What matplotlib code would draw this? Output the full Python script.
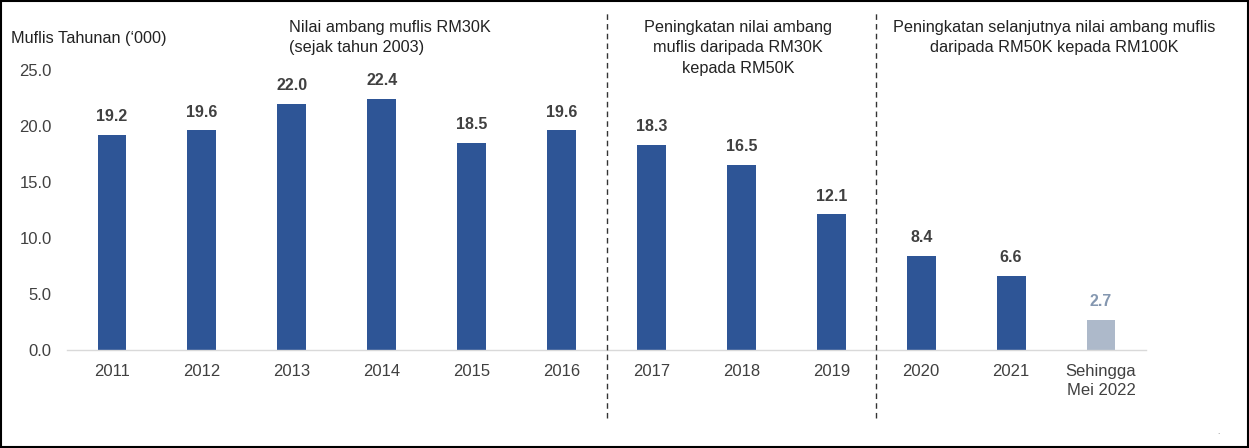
import matplotlib.pyplot as plt
from matplotlib.patches import Rectangle

plt.rcParams['font.family'] = ['Liberation Sans', 'DejaVu Sans']

# data
years = ['2011', '2012', '2013', '2014', '2015', '2016',
         '2017', '2018', '2019', '2020', '2021', 'Sehingga\nMei 2022']
muflis = [19.2, 19.6, 22.0, 22.4, 18.5, 19.6, 18.3, 16.5, 12.1, 8.4, 6.6, 2.7]
partial = [False] * 11 + [True]
yticks = [0, 5, 10, 15, 20, 25]
dividers = [5.5, 8.5]

W, H = 1249, 448
fig = plt.figure(figsize=(W / 100, H / 100), dpi=100)
# axes placed in pixels: x from 67 to 1146, y from 70 (25.0) to 350 (0.0)
ax = fig.add_axes([67 / W, (H - 350) / H, 1079 / W, 280 / H])

dark = '#2E5596'
light = '#ADB9CA'
txt = '#404040'

xs = list(range(len(years)))
colors = [light if p else dark for p in partial]
ax.bar(xs, muflis, width=0.32, color=colors, zorder=2)

for x, v, p in zip(xs, muflis, partial):
    ax.annotate(f'{v:.1f}', (x, v), xytext=(0, 10), textcoords='offset points',
                ha='center', va='baseline', fontsize=11.5, fontweight='bold',
                color='#8497B0' if p else txt)

ax.set_xlim(-0.5, len(years) - 0.5)
ax.set_ylim(0, 25)
ax.set_yticks(yticks)
ax.set_yticklabels([f'{t:.1f}' for t in yticks])
ax.set_xticks(xs)
ax.set_xticklabels(years, linespacing=1.35)
ax.tick_params(axis='both', length=0, labelsize=12, colors=txt)
ax.tick_params(axis='y', pad=11)
ax.tick_params(axis='x', pad=10)
for s in ['top', 'right', 'left']:
    ax.spines[s].set_visible(False)
ax.spines['bottom'].set_color('#D9D9D9')
ax.spines['bottom'].set_linewidth(1)

# dashed dividers between periods
for d in dividers:
    ax.plot([d, d], [-6.1, 30.1], color='#333333', lw=1, ls=(0, (4, 3)),
            clip_on=False, zorder=3)

fig.text(11 / W, 1 - 38 / H, "Muflis Tahunan (\u2018000)", fontsize=11.7,
         color='#222222', va='center', ha='left')

note = dict(fontsize=11.7, color='#222222', va='top', linespacing=1.45)
fig.text(289 / W, 1 - 20 / H, 'Nilai ambang muflis RM30K\n(sejak tahun 2003)',
         ha='left', **note)
fig.text(738 / W, 1 - 20 / H, 'Peningkatan nilai ambang\nmuflis daripada RM30K\nkepada RM50K',
         ha='center', multialignment='center', **note)
fig.text(1054 / W, 1 - 20 / H, 'Peningkatan selanjutnya nilai ambang muflis\ndaripada RM50K kepada RM100K',
         ha='center', multialignment='center', **note)

fig.text(1218 / W, 1 - 434 / H, '.', fontsize=6, color='#777777', ha='center')

# outer frame
fig.add_artist(Rectangle((0.001, 0.002), 0.998, 0.996, transform=fig.transFigure,
                         fill=False, edgecolor='black', lw=1.5))

fig.savefig('out.png', dpi=100)
